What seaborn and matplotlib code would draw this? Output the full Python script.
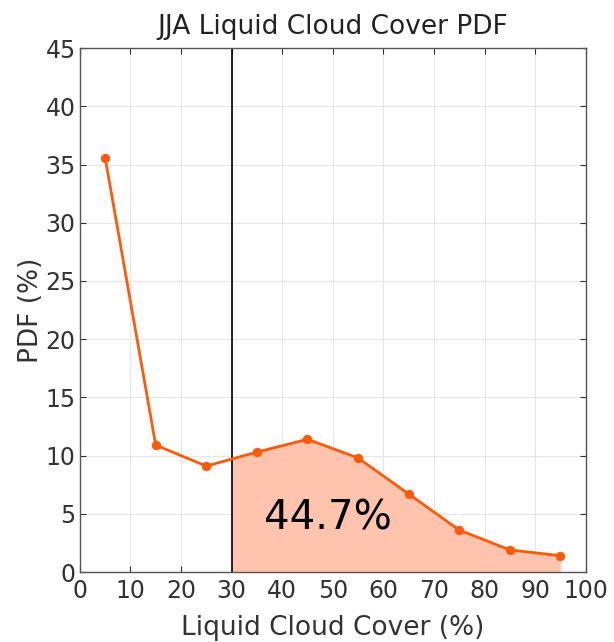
import numpy as np
import matplotlib
matplotlib.use("Agg")
import matplotlib.pyplot as plt
import seaborn as sns

# data
cover = [5, 15, 25, 35, 45, 55, 65, 75, 85, 95]
pdf = [35.6, 10.9, 9.1, 10.3, 11.4, 9.8, 6.7, 3.6, 1.9, 1.4]
threshold = 30
share_label = "44.7%"

sns.set_style("whitegrid")
plt.rcParams["font.family"] = ["DejaVu Sans"]

fig = plt.figure(figsize=(6.14, 6.42), dpi=100)
ax = fig.add_axes([0.130, 0.109, 0.824, 0.816])

line_col = "#ff5a0a"
fill_col = "#ffc4ad"

# shaded area right of the threshold
x_fill = [threshold] + [c for c in cover if c > threshold]
y_fill = np.interp(x_fill, cover, pdf)
ax.fill_between(x_fill, y_fill, 0, color=fill_col, lw=0, zorder=1)

sns.lineplot(x=cover, y=pdf, ax=ax, color=line_col, lw=2, marker="o",
             markersize=6, markeredgecolor=line_col, zorder=3)
ax.axvline(threshold, color="black", lw=1.2, zorder=2)

ax.text(49, 4.6, share_label, fontsize=29, ha="center", va="center", color="black", zorder=4)

ax.set_xlim(0, 100)
ax.set_ylim(0, 45)
ax.set_xticks(range(0, 101, 10))
ax.set_yticks(range(0, 46, 5))
ax.grid(True, color="#e6e6e6", lw=0.8)
ax.set_axisbelow(True)
for s in ax.spines.values():
    s.set_visible(True)
    s.set_color("#555555")
    s.set_linewidth(1)
ax.tick_params(labelsize=17, colors="#333333", direction="in", length=4, width=0.8,
               top=True, right=True, bottom=True, left=True)
ax.tick_params(axis="x", pad=5)
ax.tick_params(axis="y", pad=3)
ax.set_xlabel("Liquid Cloud Cover (%)", fontsize=19, color="#333333", labelpad=9)
ax.set_ylabel("PDF (%)", fontsize=19, color="#333333", labelpad=1)
ax.set_title("JJA Liquid Cloud Cover PDF", fontsize=19, color="#222222", pad=10)

fig.savefig("out.png", dpi=100)
